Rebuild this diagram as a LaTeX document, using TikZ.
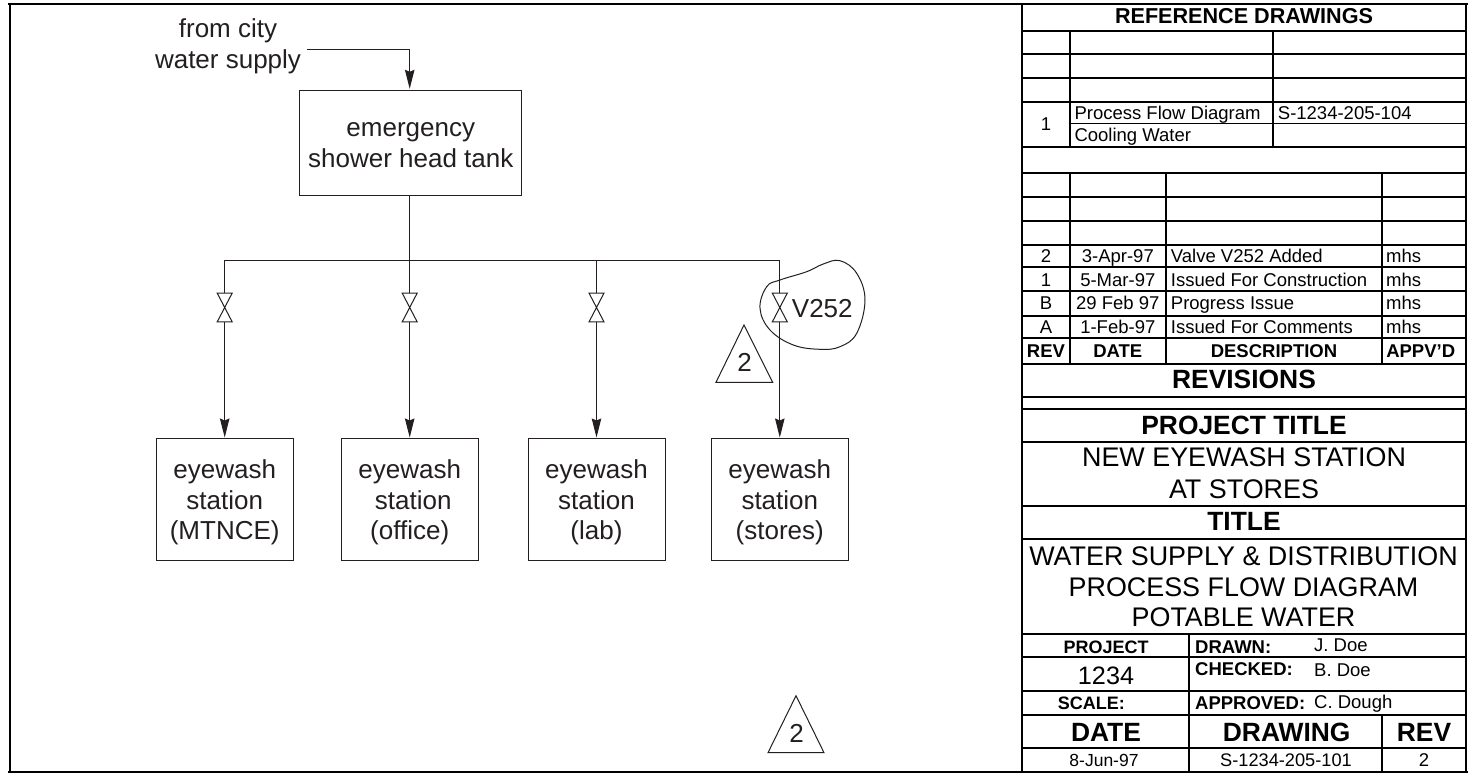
\documentclass[tikz,border=0pt]{standalone}
\usepackage{fontspec}
\setmainfont{Liberation Sans}
\usetikzlibrary{arrows.meta,calc}
\definecolor{ink}{HTML}{231F20}
\newcommand{\fsm}{\fontsize{18.5}{22}\selectfont}
\newcommand{\fsb}{\fontsize{18.5}{22}\selectfont\bfseries}
\newcommand{\fhd}{\fontsize{21.6}{26}\selectfont\bfseries}
\newcommand{\flg}{\fontsize{26.9}{31}\selectfont}
\newcommand{\flb}{\fontsize{26.4}{31}\selectfont\bfseries}
\newcommand{\liftline}[1]{\rule{0pt}{#1pt}}
\tikzset{
  x=1pt,y=-1pt,
  framing/.style={line width=2pt,black},
  rowthin/.style={line width=1pt,black},
  pipe/.style={line width=1pt,ink},
  flow/.style={pipe,-{Stealth[length=19pt,width=9.5pt,inset=2pt]},shorten >=1pt},
  unit/.style={draw=ink,line width=1pt,rectangle,align=center,text=ink,font=\fontsize{26}{30.6}\selectfont,inner sep=0pt},
  tank/.style={unit,minimum width=221.7pt,minimum height=105.4pt},
  eyewash/.style={unit,minimum width=137pt,minimum height=121pt},
  valve/.style={rectangle,minimum width=14.6pt,minimum height=28.4pt,inner sep=0pt},
  valvebody/.style={line width=1pt,ink,fill=white},
  dlabel/.style={text=ink,font=\fontsize{26}{30.6}\selectfont,align=center,inner sep=0pt},
  tc/.style={anchor=base,inner sep=0pt,text=black},
  tl/.style={anchor=base west,inner sep=0pt,text=black},
  marker/.style={line width=1pt,ink}
}
\begin{document}
\begin{tikzpicture}
\useasboundingbox (0,0) rectangle (1468,775);
\fill[white] (0,0) rectangle (1468,775);
% frame
\draw[framing] (8,4) -- (1468,4);
\draw[framing] (8,772) -- (1468,772);
\draw[framing] (10,4) -- (10,772);
\draw[framing] (1022,4) -- (1022,772);
\draw[framing] (1466,4) -- (1466,772);
% title block rows
\foreach \yy in {31.3,54.5,78.5,101.7,147,172.7,197.3,221,245,267.3,291,315.7,338.3,364,396.7,408.7,441.7,505.7,539.3,634,656.7,691,715,748.3}
  \draw[framing] (1022,\yy) -- (1467,\yy);
\draw[rowthin] (1070,124) -- (1466,124);
\draw[framing] (1070,31.3) -- (1070,147);
\draw[framing] (1273.3,31.3) -- (1273.3,147);
\draw[framing] (1070,172.7) -- (1070,364);
\draw[framing] (1165.7,172.7) -- (1165.7,364);
\draw[framing] (1381.7,172.7) -- (1381.7,364);
\draw[framing] (1189.3,634) -- (1189.3,772);
\draw[framing] (1381.7,715) -- (1381.7,772);
% title block text
\node[tc,font=\fhd] (refhead) at (1244,24) {REFERENCE DRAWINGS};
\node[tc,font=\fsm] (refnum) at (1046,130.7) {1};
\node[tl,font=\fsm] (refa) at (1074.3,119.3) {Process Flow Diagram};
\node[tl,font=\fsm] (refb) at (1277.7,119.3) {S-1234-205-104};
\node[tl,font=\fsm] (refc) at (1074.3,141.7) {Cooling Water};
\node[tc,font=\fsm] (r2a) at (1046,262.7) {2};
\node[tc,font=\fsm] (r2b) at (1117.8,262.7) {3-Apr-97};
\node[tl,font=\fsm] (r2c) at (1170.7,262.7) {Valve V252 Added};
\node[tl,font=\fsm] (r2d) at (1386,262.7) {mhs};
\node[tc,font=\fsm] (r1a) at (1046,286.7) {1};
\node[tc,font=\fsm] (r1b) at (1117.8,286.7) {5-Mar-97};
\node[tl,font=\fsm] (r1c) at (1170.7,286.7) {Issued For Construction};
\node[tl,font=\fsm] (r1d) at (1386,286.7) {mhs};
\node[tc,font=\fsm] (rBa) at (1046,310) {B};
\node[tc,font=\fsm] (rBb) at (1117.8,310) {29 Feb 97};
\node[tl,font=\fsm] (rBc) at (1170.7,310) {Progress Issue};
\node[tl,font=\fsm] (rBd) at (1386,310) {mhs};
\node[tc,font=\fsm] (rAa) at (1046,334) {A};
\node[tc,font=\fsm] (rAb) at (1117.8,334) {1-Feb-97};
\node[tl,font=\fsm] (rAc) at (1170.7,334) {Issued For Comments};
\node[tl,font=\fsm] (rAd) at (1386,334) {mhs};
\node[tc,font=\fsb] (hrev) at (1046,357.7) {REV};
\node[tc,font=\fsb] (hdate) at (1117.8,357.7) {DATE};
\node[tc,font=\fsb] (hdesc) at (1274,357.7) {DESCRIPTION};
\node[tc,font=\fsb] (happ) at (1420.7,357.7) {APPV'D};
\node[tc,font=\flb] (revisions) at (1244,388.3) {REVISIONS};
\node[tc,font=\flb] (ptitle) at (1244,434.3) {PROJECT TITLE};
\node[tc,font=\flg] (pt1) at (1244,466.7) {NEW EYEWASH STATION};
\node[tc,font=\flg] (pt2) at (1244,498.3) {AT STORES};
\node[tc,font=\flb] (title) at (1244,530.7) {TITLE};
\node[tc,font=\flg] (t1) at (1243.5,565) {WATER SUPPLY \& DISTRIBUTION};
\node[tc,font=\flg] (t2) at (1243.5,596) {PROCESS FLOW DIAGRAM};
\node[tc,font=\flg] (t3) at (1243.5,626.7) {POTABLE WATER};
\node[tc,font=\fontsize{18}{22}\selectfont\bfseries] (project) at (1106,653.3) {PROJECT};
\node[tc,font=\fontsize{25.2}{30}\selectfont] (pnum) at (1106,684.3) {1234};
\node[tl,font=\fontsize{18}{22}\selectfont\bfseries] (scale) at (1057.7,709.3) {SCALE:};
\node[tl,font=\fsb] (drawn) at (1195,653.3) {DRAWN:};
\node[tl,font=\fsm] (drawnv) at (1314,651.7) {J. Doe};
\node[tl,font=\fsb] (checked) at (1195,675.7) {CHECKED:};
\node[tl,font=\fsm] (checkedv) at (1314,676.7) {B. Doe};
\node[tl,font=\fsb] (approved) at (1195,709.3) {APPROVED:};
\node[tl,font=\fsm] (approvedv) at (1314,708.3) {C. Dough};
\node[tc,font=\flb] (fdate) at (1106,741) {DATE};
\node[tc,font=\flb] (fdraw) at (1286.7,741) {DRAWING};
\node[tc,font=\flb] (frev) at (1424,741) {REV};
\node[tc,font=\fontsize{17.5}{22}\selectfont] (vdate) at (1104,766) {8-Jun-97};
\node[tc,font=\fontsize{18.2}{22}\selectfont] (vdraw) at (1286,766) {S-1234-205-101};
\node[tc,font=\fsm] (vrev) at (1424,766) {2};
% diagram nodes
\node[dlabel] (city) at (228,46.2) {from city\\water supply};
\node[tank] (tankbox) at (410.8,143) {\liftline{18}emergency\\shower head tank};
\node[eyewash] (b1) at (224.7,499.5) {\liftline{25}eyewash\\station\\(MTNCE)};
\node[eyewash] (b2) at (409.7,499.5) {\liftline{25}eyewash\\\hspace*{7pt}station\\(office)};
\node[eyewash] (b3) at (596.5,499.5) {\liftline{25}eyewash\\station\\(lab)};
\node[eyewash] (b4) at (779.8,499.5) {\liftline{25}eyewash\\station\\(stores)};
\node[valve] (v1) at (224.7,307.5) {};
\node[valve] (v2) at (409.7,307.5) {};
\node[valve] (v3) at (596.5,307.5) {};
\node[valve] (v4) at (779.8,307.5) {};
\coordinate (inlet) at (306.7,49.3);
\coordinate (j1) at (224.7,260.3);
\coordinate (j2) at (409.7,260.3);
\coordinate (j3) at (596.5,260.3);
\coordinate (j4) at (779.8,260.3);
% connectors
\draw[flow] (inlet) -| (j2 |- tankbox.north);
\draw[pipe] (j2 |- tankbox.south) -- (j2);
\draw[pipe] (j1) -- (j4);
\foreach \n in {1,2,3,4}{
  \draw[pipe] (j\n) -- (v\n.north);
  \draw[flow] (v\n.south) -- (b\n.north);
  \draw[valvebody] (v\n.north west) -- (v\n.north east) -- (v\n.south west) -- (v\n.south east) -- cycle;
}
% valve tag cloud
\draw[marker] plot[smooth cycle,tension=0.65] coordinates {
 (823.3,264) (840,260.7) (856.7,273.3) (865,300) (856.7,333.3) (840,346.7) (820,349.3)
 (793.3,345) (770,330) (760,308.3) (766.7,286.7) (780,280) (806.7,271.7)};
\node[dlabel] (tag) at (822.3,308.5) {V252};
% revision triangles
\draw[marker] (744,325) -- (772.7,382.3) -- (716,382.3) -- cycle;
\node[dlabel] (rev1) at (744.6,362) {2};
\draw[marker] (796,695.7) -- (824,752.7) -- (768,752.7) -- cycle;
\node[dlabel] (rev2) at (796.5,733) {2};
\end{tikzpicture}
\end{document}
